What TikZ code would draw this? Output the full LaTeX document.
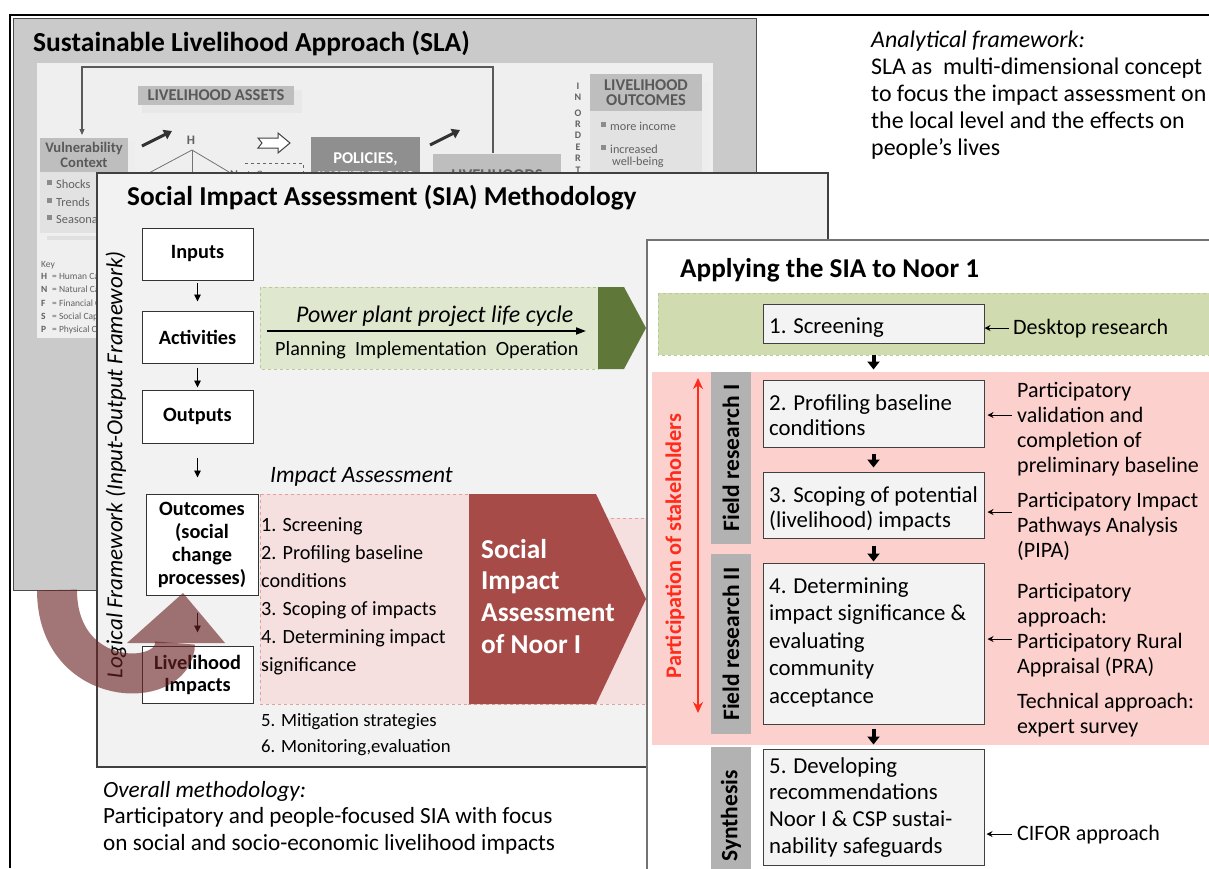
\documentclass[tikz,border=0pt]{standalone}
\usepackage{fontspec}
\setmainfont{Carlito}
\usetikzlibrary{arrows.meta}
\newcommand{\fsz}[2]{\fontsize{#1}{#2}\selectfont}
\newcommand{\mystrut}{\rule{0pt}{0.8em}}
\definecolor{slagray}{HTML}{CACACA}
\definecolor{slainner}{HTML}{EFEFEF}
\definecolor{slahead}{HTML}{BEBEBE}
\definecolor{slalist}{HTML}{E2E2E2}
\definecolor{slapol}{HTML}{8F8F8F}
\definecolor{siabg}{HTML}{F2F2F2}
\definecolor{lgreen}{HTML}{DFE8CE}
\definecolor{lgreenbd}{HTML}{B8CB97}
\definecolor{dgreen}{HTML}{5F7839}
\definecolor{lpink}{HTML}{F5E0DF}
\definecolor{lpinkbd}{HTML}{E2A09E}
\definecolor{dred}{HTML}{A64B48}
\definecolor{rgreen}{HTML}{D0DCAF}
\definecolor{rpink}{HTML}{FCD1CD}
\definecolor{tabgray}{HTML}{B2B2B2}
\definecolor{boxgray}{HTML}{F3F3F3}
\definecolor{brownarr}{HTML}{6A2222}
\definecolor{partred}{HTML}{FF2B1C}
\begin{document}
\begin{tikzpicture}[x=1pt,y=-1pt,
  lf/.style={draw=black!80, fill=white, line width=1pt, align=center, font=\bfseries\fsz{20.3}{23}, inner sep=1pt},
  rb/.style={draw=black!75, fill=boxgray, line width=1pt, inner sep=0},
  rtxt/.style={anchor=north west, inner sep=0, align=left, font=\fsz{22}{25}},
  btxt/.style={anchor=north west, inner sep=0, align=left, font=\fsz{22.8}{25}},
  tabbox/.style={fill=tabgray, inner sep=0, minimum width=40},
  tabtxt/.style={rotate=90, font=\bfseries\fsz{23.5}{24}, inner sep=0},
  smarr/.style={line width=0.9pt, -{Triangle[length=7pt,width=6.5pt]}},
  bigarr/.style={line width=4pt, -{Triangle[length=8pt,width=12pt]}},
  annarr/.style={line width=0.9pt, -{Stealth[length=6pt,width=6pt]}},
  slatxt/.style={inner sep=0, text=black!62},
  fatarr/.style={line width=3pt, black!80, -{Triangle[length=8pt,width=10pt]}}
]
\useasboundingbox (0,0) rectangle (1209,868);
\fill[white] (0,0) rectangle (1209,868);
% outer frame
\draw[line width=1.8pt] (10,868) -- (10,15) -- (1209,15);

% ================= SLA panel =================
\filldraw[fill=slagray, draw=black!70, line width=1pt] (13,18) rectangle (756,590);
\node[anchor=base west, inner sep=0, font=\bfseries\fsz{27.5}{30}] (slatitle) at (33,51) {Sustainable Livelihood Approach (SLA)};
\fill[slainner] (37,63) rectangle (713,338);
\draw[black!65, line width=1.1pt, -{Triangle[length=6pt,width=5pt]}] (493,153) -- (493,67) -- (82,67) -- (82,135);
\fill[black!9] (142,90) rectangle (302,113);
\node[fill=slahead, text=black!65, font=\bfseries\fsz{16.5}{17}, minimum width=156, minimum height=19, inner sep=0] (assets) at (216,95.5) {LIVELIHOOD ASSETS};
% vulnerability
\fill[black!7] (128,142) rectangle (135,240);
\node[fill=slahead, text=black!65, font=\bfseries\fsz{14.6}{14.5}, align=center, minimum width=88, minimum height=34, inner sep=0] (vuln) at (84,155) {Vulnerability\\Context};
\fill[slalist] (40,172) rectangle (128,233);
\foreach \y/\t [count=\i] in {188/Shocks,206/Trends,223/Seasonality}{
  \fill[black!45] (47,\y-8) rectangle (52,\y-3);
  \node[slatxt, anchor=base west, font=\fsz{12.4}{14}] (vl\i) at (56,\y) {\t};
}
\fill[black!12] (47,236) rectangle (140,240);
\node[slatxt, anchor=base west, font=\fsz{9.5}{10}] (key) at (41,267) {Key};
\foreach \y/\l/\t [count=\i] in {279/H/Human Capital,292/N/Natural Capital,306/F/Financial Capital,319/S/Social Capital,332/P/Physical Capital}{
  \node[slatxt, anchor=base west, font=\bfseries\fsz{9.5}{10}] (kl\i) at (41,\y) {\l};
  \node[slatxt, anchor=base west, font=\fsz{9.5}{10}] (kt\i) at (52,\y) {= \t};
}
% asset pentagon
\draw[fatarr] (142,146) -- (172,131);
\node[slatxt, font=\bfseries\fsz{13}{14}] (hh) at (191,140) {H};
\draw[black!55, line width=0.8pt] (147,174) -- (192,150) -- (229,172);
\draw[black!55, line width=0.8pt] (192,150) -- (192,176);
\node[slatxt, font=\bfseries\fsz{12}{12}] (ss) at (149,177) {S};
\node[slatxt, font=\bfseries\fsz{12}{12}] (nn) at (234,175) {N};
\draw[black!75, line width=1pt, fill=white] (258,138) -- (278,138) -- (278,133) -- (290,143) -- (278,153) -- (278,148) -- (258,148) -- (262,143) -- cycle;
\draw[black!60, dashed, line width=0.9pt] (245,163) -- (303,163) -- (303,178);
\node[slatxt, anchor=base west, font=\fsz{12}{12}] (infl) at (247,179) {Influence};
\fill[slapol] (311,137) rectangle (420,190);
\node[anchor=base, inner sep=0, text=white, font=\bfseries\fsz{16.5}{16}] (pol) at (365.5,163) {POLICIES,};
\node[anchor=base, inner sep=0, text=white, font=\bfseries\fsz{16.5}{16}] (inst) at (365.5,182) {INSTITUTIONS};
\draw[fatarr] (430,145) -- (460,130);
\fill[slahead] (433,154) rectangle (561,190);
\node[slatxt, anchor=base, font=\bfseries\fsz{16.5}{16}] (lhs) at (497,180) {LIVELIHOODS};
\foreach \y/\l [count=\i] in {86/I,97/N,113/O,124/R,135/D,147/E,158/R,170/T}{
  \node[slatxt, font=\bfseries\fsz{10}{10}] (io\i) at (578,\y) {\l};
}
\fill[black!7] (702,82) rectangle (709,180);
\node[fill=slahead, text=black!65, font=\bfseries\fsz{16.5}{14.5}, align=center, minimum width=112, minimum height=37, inner sep=0] (lo) at (646,92.5) {LIVELIHOOD\\OUTCOMES};
\fill[slalist] (590,111) rectangle (702,180);
\fill[black!45] (601,122) rectangle (606,127);
\node[slatxt, anchor=base west, font=\fsz{12.2}{13}] (mi) at (610,130) {more income};
\fill[black!45] (601,145) rectangle (606,150);
\node[slatxt, anchor=base west, font=\fsz{12.2}{13}] (inc) at (610,153) {increased};
\node[slatxt, anchor=base west, font=\fsz{12.2}{13}] (wb) at (612,165) {well-being};

% ================= top right text =================
\node[anchor=north west, inner sep=0, align=left, font=\fsz{23.9}{27}] (anal) at (871,27.9)
  {\mystrut\textit{Analytical framework:}\\SLA as\ \ multi-dimensional concept\\to focus the impact assessment on\\the local level and the effects on\\people’s lives};

% ================= SIA panel =================
\filldraw[fill=siabg, draw=black!75, line width=1.1pt] (97,173) rectangle (828,767);
\node[anchor=base west, inner sep=0, font=\bfseries\fsz{27.3}{30}] (siatitle) at (127,205) {Social Impact Assessment (SIA) Methodology};
% life cycle
\filldraw[fill=lgreen, draw=lgreenbd, dashed, line width=0.8pt] (260,287) rectangle (598,369);
\fill[dgreen] (598,287) -- (624,287) -- (646,328) -- (624,369) -- (598,369) -- cycle;
\node[anchor=base west, inner sep=0, font=\itshape\fsz{23.9}{24}] (pp) at (296,322) {Power plant project life cycle};
\coordinate (lcA) at (267,331);
\coordinate (lcB) at (586,331);
\draw[line width=1.8pt, -{Triangle[length=10pt,width=7pt]}] (lcA) -- (lcB);
\node[anchor=base west, inner sep=0, font=\fsz{20.2}{22}] (pio) at (275,355) {Planning\ \ Implementation\ \ Operation};
% impact assessment
\node[anchor=base west, inner sep=0, font=\itshape\fsz{23.5}{24}] (ia) at (270,482) {Impact Assessment};
\filldraw[fill=lpink, draw=lpinkbd, dashed, line width=0.8pt] (468,518) rectangle (646,704);
\filldraw[fill=lpink, draw=lpinkbd, dashed, line width=0.8pt] (260,494) rectangle (469,704);
\fill[dred] (469,494) -- (596,494) -- (646,599) -- (596,704) -- (469,704) -- cycle;
\node[anchor=north west, inner sep=0, align=left, font=\fsz{20.2}{28}] (steps) at (261,514.8)
  {\mystrut 1. Screening\\2. Profiling baseline\\conditions\\3. Scoping of impacts\\4. Determining impact\\significance};
\node[anchor=north west, inner sep=0, align=left, font=\fsz{18.7}{26}] (steps2) at (261,711)
  {\mystrut 5. Mitigation strategies\\6. Monitoring,evaluation};
\node[anchor=north west, inner sep=0, align=left, text=white, font=\bfseries\fsz{27.3}{31.7}] (sian) at (481,536.2)
  {\mystrut Social\\Impact\\Assessment\\of Noor I};
% logical framework
\node[rotate=90, inner sep=0, font=\itshape\fsz{23}{24}] (logf) at (116,465) {Logical Framework (Input-Output Framework)};
\node[lf, minimum width=111, minimum height=52] (inputs) at (197.5,254) {Inputs};
\node[lf, minimum width=111, minimum height=52] (activities) at (197.5,337) {Activities};
\node[lf, minimum width=111, minimum height=53] (outputs) at (197.5,416.5) {Outputs};
\node[lf, minimum width=112, minimum height=101] (outcomes) at (202,544.5) {Outcomes\\(social\\change\\processes)};
\node[lf, minimum width=111, minimum height=57, font=\bfseries\fsz{20.3}{22}] (limp) at (197.5,674.5) {Livelihood\\Impacts};
\draw[smarr, shorten <=2pt, shorten >=9pt] (inputs) -- (activities);
\draw[smarr, shorten <=4pt, shorten >=2pt] (activities) -- (outputs);
\draw[smarr, shorten <=14pt, shorten >=16pt] (outputs.south) -- (outputs.south |- outcomes.north);
\draw[smarr, shorten <=17pt, shorten >=13pt] (outcomes.south -| limp.north) -- (limp.north);

% ================= right panel =================
\filldraw[fill=white, draw=black!55, line width=1.2pt] (647,240) rectangle (1215,875);
\node[anchor=base west, inner sep=0, font=\bfseries\fsz{27.2}{28}] (rtitle) at (680,277) {Applying the SIA to Noor 1};
\filldraw[fill=rgreen, draw=lgreenbd, dashed, line width=0.8pt] (658,293) rectangle (1215,355);
\fill[rpink] (652,372) rectangle (1215,745);
% tabs
\node[tabbox, minimum height=172] (fr1) at (731,458) {};
\node[tabtxt] (fr1t) at (fr1) {Field research I};
\node[tabbox, minimum height=180] (fr2) at (731,644) {};
\node[tabtxt] (fr2t) at (fr2) {Field research II};
\node[tabbox, minimum height=128] (syn) at (731,811) {};
\node[tabtxt] (synt) at (731,816) {Synthesis};
% participation
\coordinate (pA) at (698,378);
\coordinate (pB) at (698,713);
\draw[partred, line width=2.2pt, {Stealth[length=11pt,width=10pt]}-{Stealth[length=11pt,width=10pt]}] (pA) -- (pB);
\node[rotate=90, inner sep=0, text=partred, font=\bfseries\fsz{22.3}{24}] (part) at (675,546) {Participation of stakeholders};
% boxes
\node[rb, minimum width=221, minimum height=39] (b1) at (873.5,323.5) {};
\node[anchor=base west, inner sep=0, font=\fsz{22.8}{25}] (b1t) at (769,333) {1. Screening};
\node[rb, minimum width=221, minimum height=67] (b2) at (873.5,413.5) {};
\node[btxt] (b2t) at (769,391.8) {\mystrut 2. Profiling baseline\\conditions};
\node[rb, minimum width=221, minimum height=66] (b3) at (873.5,505) {};
\node[btxt] (b3t) at (769,483.8) {\mystrut 3. Scoping of potential\\(livelihood) impacts};
\node[rb, minimum width=221, minimum height=161] (b4) at (873.5,643.5) {};
\node[btxt, font=\fsz{22.8}{27.5}] (b4t) at (769,574.8) {\mystrut 4. Determining\\impact significance \&\\evaluating\\community\\acceptance};
\node[rb, minimum width=221, minimum height=116] (b5) at (873.5,807) {};
\node[btxt, font=\fsz{22.8}{26.7}] (b5t) at (769,754.8) {\mystrut 5. Developing\\recommendations\\Noor I \& CSP sustai-\\nability safeguards};
\draw[bigarr, shorten <=11pt, shorten >=10pt] (b1) -- (b2);
\draw[bigarr, shorten <=6pt, shorten >=4pt] (b2) -- (b3);
\draw[bigarr, shorten <=7pt, shorten >=1pt] (b3) -- (b4);
\draw[bigarr, shorten <=4pt, shorten >=4pt] (b4) -- (b5);
% annotations
\node[anchor=base west, inner sep=0, font=\fsz{22}{25}] (a1) at (1013,334) {Desktop research};
\node[rtxt] (a2) at (1017,379.4) {\mystrut Participatory\\validation and\\completion of\\preliminary baseline};
\node[rtxt] (a3) at (1017,489.4) {\mystrut Participatory Impact\\Pathways Analysis\\(PIPA)};
\node[rtxt] (a4) at (1017,580.4) {\mystrut Participatory\\approach:\\Participatory Rural\\Appraisal (PRA)};
\node[rtxt] (a5) at (1017,690.4) {\mystrut Technical approach:\\expert survey};
\node[anchor=base west, inner sep=0, font=\fsz{22}{25}] (a6) at (1017,840) {CIFOR approach};
\coordinate (c1) at (1009,328);
\coordinate (c2) at (1012,415);
\coordinate (c3) at (1012,512);
\coordinate (c4) at (1012,639);
\coordinate (c5) at (1012,834);
\draw[annarr] (c1) -- (c1 -| b1.east);
\draw[annarr] (c2) -- ([xshift=3pt]c2 -| b2.east);
\draw[annarr] (c3) -- ([xshift=3pt]c3 -| b3.east);
\draw[annarr] (c4) -- ([xshift=3pt]c4 -| b4.east);
\draw[annarr] (c5) -- ([xshift=2pt]c5 -| b5.east);

% ================= brown curved arrow =================
\fill[brownarr, opacity=0.62] (127,643) -- (183,593) -- (225,643) -- cycle;
\draw[brownarr, opacity=0.62, line width=40pt] (57,590) .. controls (57,690) and (175,690) .. (175,643);

% ================= bottom left text =================
\node[anchor=north west, inner sep=0, align=left, font=\fsz{23.2}{26.5}] (overall) at (103,778.4)
  {\mystrut\textit{Overall methodology:}\\Participatory and people-focused SIA with focus\\on social and socio-economic livelihood impacts};
\end{tikzpicture}
\end{document}
